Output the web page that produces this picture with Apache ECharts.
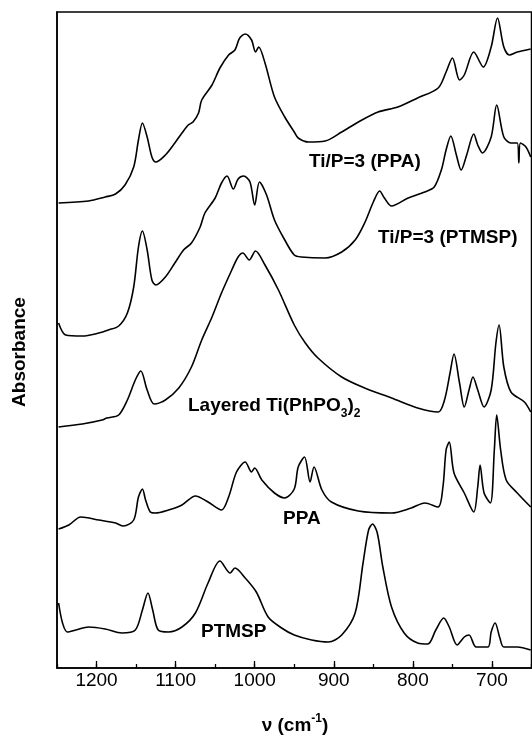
<!DOCTYPE html>
<html><head><meta charset="utf-8">
<script src="https://cdn.jsdelivr.net/npm/echarts@6/dist/echarts.min.js"></script>
<style>html,body{margin:0;padding:0;background:#fff}#c{width:532px;height:736px}</style>
</head><body><div id="c"></div>
<script>
// Wavenumbers (cm-1) and absorbance (arbitrary offset units)
const names = ['Ti/P=3 (PPA)', 'Ti/P=3 (PTMSP)', 'Layered Ti(PhPO3)2', 'PPA', 'PTMSP'];
const nu1 = [1248,1210,1189,1176,1164,1153,1147,1142,1136,1130,1125,1113,1101,1092,1084,1078,1071,1067,1054,1044,1033,1025,1019,1012,1004,999,995,987,975,962,950,945,932,911,890,869,844,819,794,768,758,750,741,735,723,711,701,693,685,678,668,651];
const abs1 = [4.65,4.67,4.71,4.74,4.83,5.01,5.28,5.45,5.31,5.11,5.06,5.13,5.25,5.35,5.43,5.46,5.55,5.68,5.83,6.00,6.13,6.18,6.30,6.34,6.28,6.16,6.21,6.05,5.71,5.51,5.36,5.30,5.26,5.27,5.36,5.46,5.56,5.61,5.70,5.80,5.96,6.10,5.88,5.93,6.16,6.01,6.21,6.50,6.21,6.13,6.16,6.19];
const nu2 = [1248,1239,1218,1197,1185,1172,1161,1153,1147,1142,1136,1130,1125,1113,1101,1090,1080,1069,1063,1050,1042,1035,1027,1021,1014,1006,1000,994,985,975,962,950,941,911,890,873,861,850,842,836,827,806,785,773,764,758,752,745,739,732,723,718,712,701,694,685,676,668,666,664,657,651];
const abs2 = [3.45,3.33,3.32,3.35,3.38,3.42,3.55,3.81,4.21,4.37,4.18,3.88,3.83,3.91,4.05,4.18,4.25,4.41,4.55,4.70,4.85,4.92,4.79,4.89,4.92,4.86,4.63,4.86,4.73,4.48,4.28,4.13,4.11,4.10,4.16,4.28,4.45,4.66,4.77,4.70,4.62,4.70,4.76,4.81,4.98,5.18,5.32,5.13,4.98,5.13,5.34,5.23,5.15,5.31,5.63,5.31,5.25,5.25,5.05,5.25,5.21,5.11];
const nu3 = [1248,1218,1193,1187,1172,1161,1151,1144,1136,1127,1113,1096,1080,1067,1054,1042,1029,1021,1015,1007,999,987,970,950,936,920,890,861,827,794,768,760,753,748,741,735,729,724,718,710,701,695,691,685,676,659,651];
const abs3 = [2.41,2.44,2.48,2.50,2.53,2.68,2.88,2.97,2.78,2.64,2.68,2.80,3.01,3.28,3.51,3.75,3.98,4.11,4.15,4.08,4.17,4.03,3.78,3.43,3.25,3.10,2.91,2.80,2.70,2.60,2.56,2.68,2.95,3.14,2.85,2.61,2.78,2.91,2.78,2.61,2.78,3.25,3.43,3.01,2.76,2.66,2.56];
const nu4 = [1248,1235,1220,1197,1176,1166,1153,1147,1142,1138,1132,1126,1109,1092,1075,1059,1042,1033,1023,1012,1004,1000,991,975,962,950,945,937,930,925,915,903,869,827,802,785,768,762,758,754,748,735,723,718,715,710,702,697,694,689,682,668,651];
const abs4 = [1.39,1.43,1.51,1.48,1.45,1.42,1.48,1.71,1.79,1.68,1.56,1.55,1.58,1.63,1.72,1.66,1.58,1.71,1.96,2.06,1.96,2.00,1.88,1.75,1.70,1.79,2.01,2.11,1.86,2.01,1.78,1.66,1.57,1.55,1.60,1.65,1.61,1.81,2.18,2.26,1.95,1.75,1.56,1.81,2.03,1.75,1.65,2.18,2.53,2.18,1.88,1.75,1.61];
const nu5 = [1248,1243,1237,1226,1210,1189,1168,1151,1142,1135,1129,1122,1109,1092,1075,1059,1044,1031,1025,1012,998,983,966,950,928,907,890,873,863,856,851,845,838,827,811,794,781,771,761,754,744,735,729,720,705,701,696,690,685,668,651];
const abs5 = [0.65,0.45,0.36,0.38,0.41,0.39,0.35,0.38,0.58,0.75,0.58,0.38,0.36,0.41,0.55,0.85,1.07,0.95,1.00,0.90,0.76,0.51,0.40,0.33,0.28,0.26,0.33,0.55,1.05,1.38,1.44,1.35,1.01,0.61,0.35,0.25,0.24,0.38,0.50,0.41,0.23,0.31,0.33,0.21,0.21,0.36,0.45,0.30,0.21,0.21,0.18];

const nus = [nu1, nu2, nu3, nu4, nu5];
const absv = [abs1, abs2, abs3, abs4, abs5];
const FONT = '"Liberation Sans", Arial, sans-serif';

const chart = echarts.init(document.getElementById('c'), null, {renderer: 'canvas'});
const series = nus.map((nu, i) => ({
  name: names[i], type: 'line', xAxisIndex: 0, yAxisIndex: 0,
  data: nu.map((v, j) => [v, absv[i][j]]),
  showSymbol: false, smooth: 0.3, clip: true,
  lineStyle: {color: '#000', width: 1.6}
}));

chart.setOption({
  animation: false,
  backgroundColor: '#fff',
  grid: {left: 57, right: 0.5, top: 12, bottom: 68, show: true, borderColor: '#000', borderWidth: 1.5, backgroundColor: 'transparent'},
  xAxis: [{
    type: 'value', inverse: true, min: 650, max: 1250, splitNumber: 6, position: 'bottom',
    axisLine: {lineStyle: {color: '#000', width: 1.5}},
    axisTick: {inside: true, length: 7, lineStyle: {color: '#000', width: 1.3}},
    axisLabel: {showMinLabel: false, showMaxLabel: false, color: '#000', fontSize: 19, fontFamily: FONT, margin: 3,
      formatter: v => String(v)},
    splitLine: {show: false}
  }, {
    type: 'value', inverse: true, min: 650, max: 1250, interval: 50, position: 'bottom', offset: 0,
    axisLine: {show: false},
    axisTick: {inside: true, length: 4, lineStyle: {color: '#000', width: 1.3}},
    axisLabel: {show: false}, splitLine: {show: false}
  }],
  yAxis: {
    type: 'value', min: 0, max: 6.56,
    axisLine: {show: true, lineStyle: {color: '#000', width: 1.5}},
    axisTick: {show: false}, axisLabel: {show: false}, splitLine: {show: false}
  },
  series: series,
  graphic: [
    {type: 'text', left: 309, top: 152, style: {text: 'Ti/P=3 (PPA)', font: 'bold 19px ' + FONT, fill: '#000'}},
    {type: 'text', left: 378, top: 228, style: {text: 'Ti/P=3 (PTMSP)', font: 'bold 19px ' + FONT, fill: '#000'}},
    {type: 'text', left: 188, top: 396, style: {
      text: '{m|Layered Ti(PhPO}{s|3}{m|)}{s|2}', fill: '#000',
      rich: {m: {fontSize: 19, fontWeight: 'bold', fontFamily: FONT, lineHeight: 28, verticalAlign: 'middle'},
             s: {fontSize: 12, fontWeight: 'bold', fontFamily: FONT, lineHeight: 12, verticalAlign: 'bottom'}}}},
    {type: 'text', left: 283, top: 509, style: {text: 'PPA', font: 'bold 19px ' + FONT, fill: '#000'}},
    {type: 'text', left: 201, top: 622, style: {text: 'PTMSP', font: 'bold 19px ' + FONT, fill: '#000'}},
    {type: 'text', x: 20, y: 352, rotation: Math.PI / 2, style: {text: 'Absorbance', font: 'bold 19px ' + FONT, fill: '#000', align: 'center', verticalAlign: 'middle'}},
    {type: 'text', x: 295, y: 726, style: {
      text: '{m|ν (cm}{p|-1}{m|)}', fill: '#000', align: 'center', verticalAlign: 'middle',
      rich: {m: {fontSize: 19, fontWeight: 'bold', fontFamily: FONT, lineHeight: 26, verticalAlign: 'middle'},
             p: {fontSize: 12, fontWeight: 'bold', fontFamily: FONT, lineHeight: 12, verticalAlign: 'top'}}}}
  ]
});
</script></body></html>
